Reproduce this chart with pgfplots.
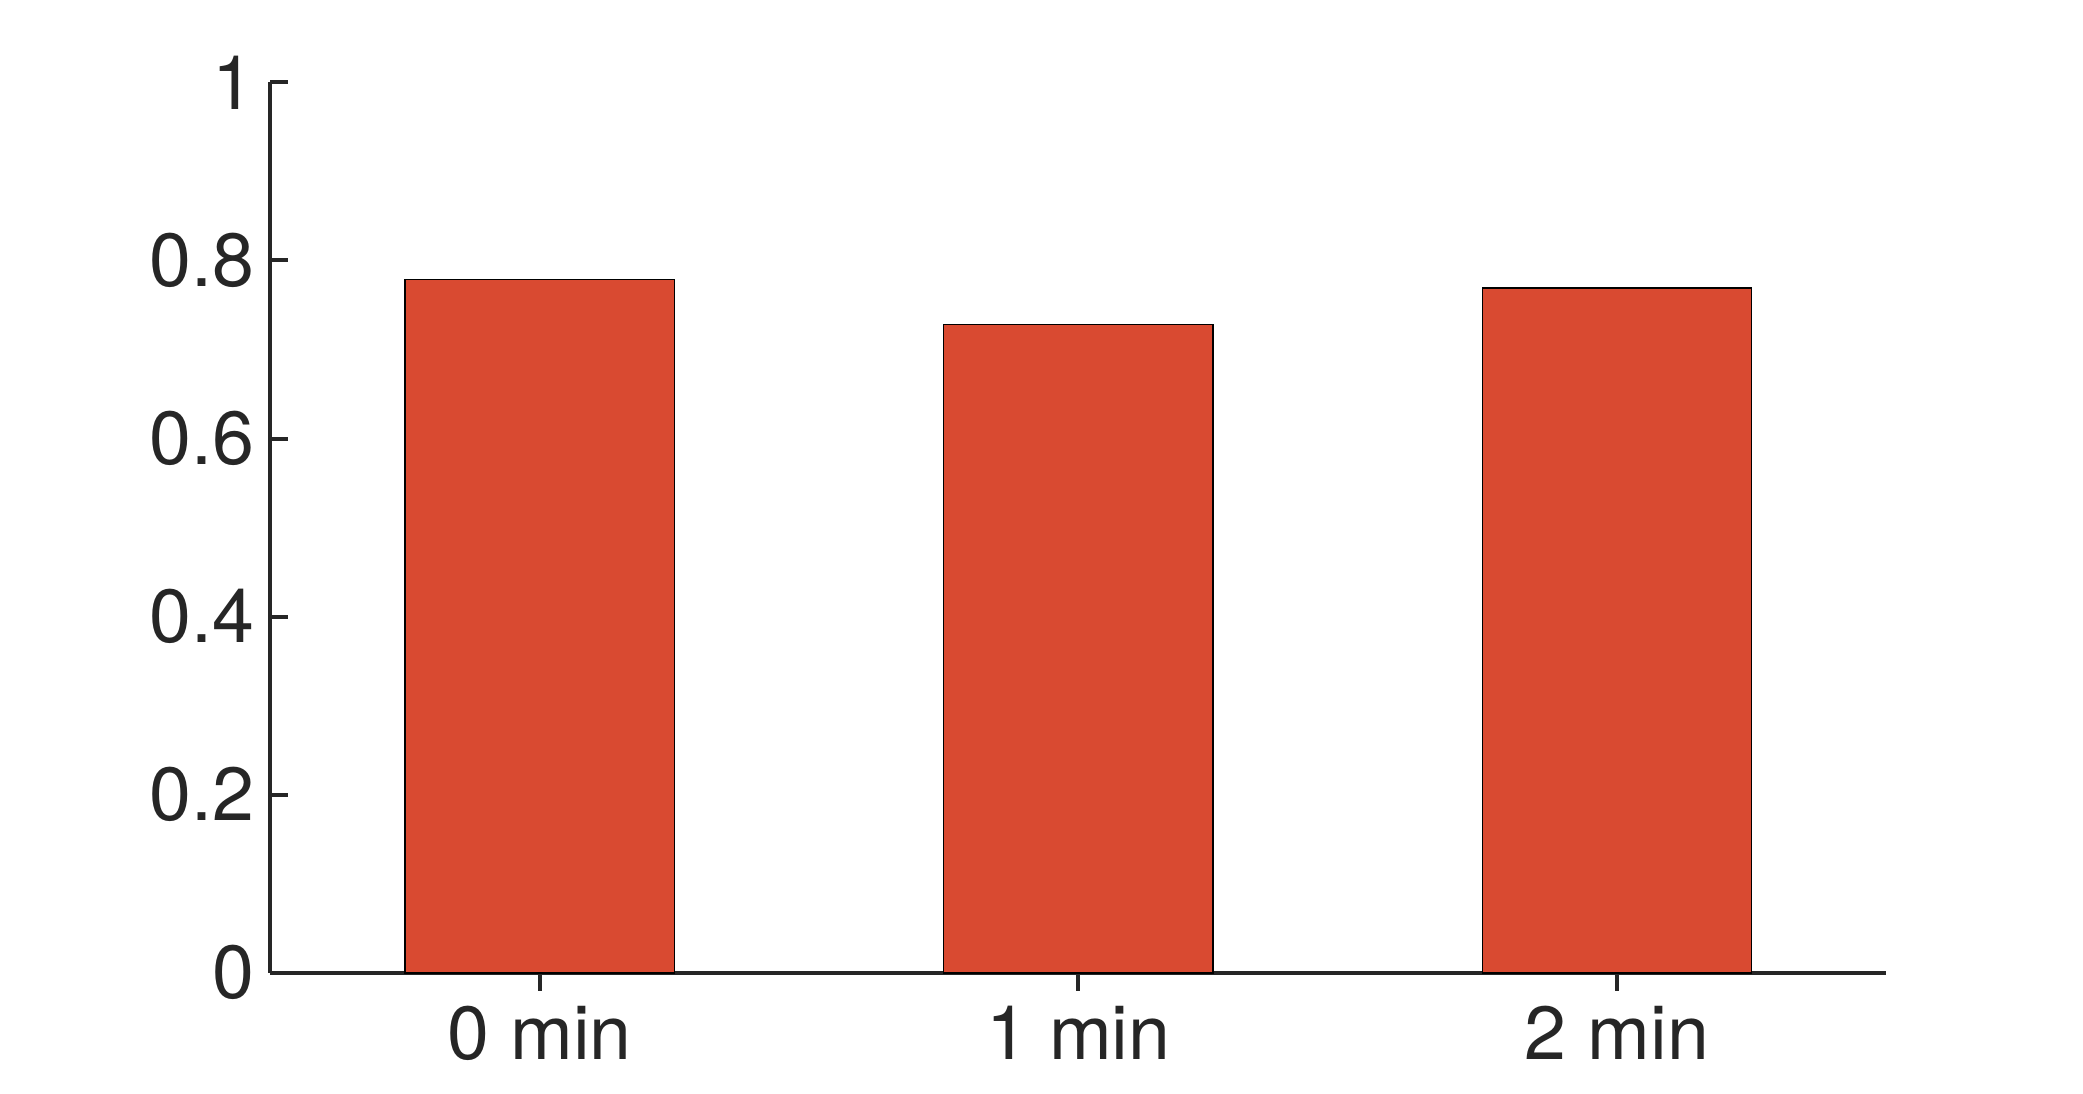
\documentclass[border=0pt]{standalone}
\usepackage{pgfplots}
\pgfplotsset{compat=1.18}
\usepackage{fontspec}
\setmainfont{TeX Gyre Heros}
\definecolor{barc}{HTML}{D94A31}
\definecolor{axc}{HTML}{262626}
\begin{document}
\begin{tikzpicture}
\begin{axis}[name=ax, scale only axis, width=364.8pt, height=201pt,
  xmin=-0.5, xmax=2.5, ymin=0, ymax=1,
  axis lines*=left, axis line style={axc, line width=0.9pt},
  every tick/.style={axc, line width=0.9pt}, tick align=inside, major tick length=4pt,
  xtick={0,1,2}, xticklabels={0 min,1 min,2 min},
  ytick={0,0.2,0.4,0.6,0.8,1},
  /pgf/number format/assume math mode=true,
  tick label style={font=\fontsize{17}{20}\selectfont, text=axc},
  ybar, bar width=0.5,
  clip=false]
\addplot[fill=barc, draw=black, line width=0.3pt] coordinates {(0,0.779) (1,0.728) (2,0.769)};
\end{axis}
\path ([shift={(-61pt,-27.3pt)}]ax.south west) rectangle ([shift={(44.4pt,18.6pt)}]ax.north east);
\end{tikzpicture}
\end{document}
